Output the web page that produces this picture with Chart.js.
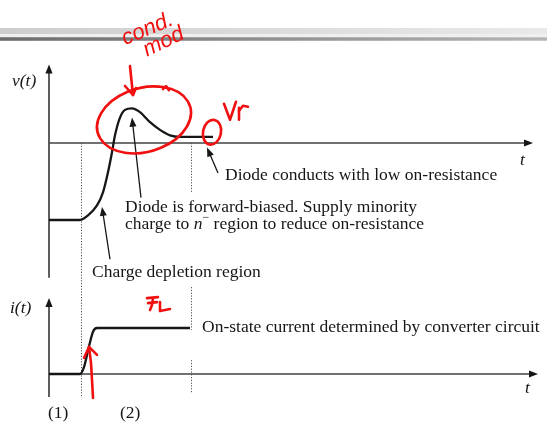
<!DOCTYPE html>
<html>
<head>
<meta charset="utf-8">
<script src="https://cdn.jsdelivr.net/npm/chart.js@4.4.0/dist/chart.umd.min.js"></script>
<style>
  html, body { margin: 0; padding: 0; background: #fff; }
  #wrap { position: relative; width: 547px; height: 425px; }
</style>
</head>
<body>
<div id="wrap"><canvas id="diode"></canvas></div>
<script>
// Power diode turn-on: forward voltage v(t) and current i(t), arbitrary units.
// v is normalised to the reverse (off-state) level = -1, i to the on-state current = 1.
const vTime  = [0, 3.1, 3.9, 4.8, 5.4, 5.9, 6.3, 6.6, 7.1, 7.6, 8.3, 9.1, 10.1, 11.1, 12.1, 13.1, 14.8, 16.4];
const vLevel = [-1, -1, -0.94, -0.81, -0.64, -0.38, -0.12, 0.10, 0.33, 0.43, 0.45, 0.40, 0.27, 0.17, 0.10, 0.08, 0.08, 0.08];
const iTime  = [0, 3.1, 3.5, 4.0, 4.4, 4.8, 14.1];
const iLevel = [0, 0, 0.15, 0.6, 0.92, 1, 1];

// interval boundaries and their names
const phaseEdges  = [3.2, 14.2];
const phaseNames  = ['(1)', '(2)'];
const phaseNameAt = [-0.1, 7.1];

const W = 547, H = 425;

// scale range that puts value a at pixel pa and b at pb over a canvas of given size
function span(a, pa, b, pb, size) {
  const k = (pb - pa) / (b - a);
  const lo = a + (0 - pa) / k;
  const hi = a + (size - pa) / k;
  return { min: Math.min(lo, hi), max: Math.max(lo, hi) };
}
const xr = span(0, 49, 10, 149, W);
const vr = span(0, 143, -1, 220, H);
const ir = span(0, 374, 1, 328, H);

const ink = '#161616';
const axisInk = '#424242';
const red = '#f01010';
const serif = '"Liberation Serif", "Times New Roman", serif';

function arrow(ctx, x0, y0, x1, y1, len, half) {
  const a = Math.atan2(y1 - y0, x1 - x0);
  ctx.beginPath();
  ctx.moveTo(x0, y0);
  ctx.lineTo(x1 - Math.cos(a) * len * 0.6, y1 - Math.sin(a) * len * 0.6);
  ctx.stroke();
  ctx.beginPath();
  ctx.moveTo(x1, y1);
  ctx.lineTo(x1 - Math.cos(a) * len - Math.sin(a) * half, y1 - Math.sin(a) * len + Math.cos(a) * half);
  ctx.lineTo(x1 - Math.cos(a) * len + Math.sin(a) * half, y1 - Math.sin(a) * len - Math.cos(a) * half);
  ctx.closePath();
  ctx.fill();
}

// free-hand stroke: anchor in pixels, list of [dx, dy] offsets
function scribble(ctx, x, y, pts) {
  ctx.beginPath();
  pts.forEach(([dx, dy], k) => k ? ctx.lineTo(x + dx, y + dy) : ctx.moveTo(x + dx, y + dy));
  ctx.stroke();
}

const sketch = {
  id: 'sketch',
  beforeDraw(c) {
    const ctx = c.ctx;
    ctx.save();
    let g = ctx.createLinearGradient(0, 0, W, 0);
    g.addColorStop(0, '#cdcdcd');
    g.addColorStop(1, '#e9e9e9');
    ctx.fillStyle = g;
    ctx.fillRect(0, 28, W, 6);
    ctx.fillStyle = '#efefef';
    ctx.fillRect(0, 34, W, 3);
    g = ctx.createLinearGradient(0, 0, W, 0);
    g.addColorStop(0, '#8a8a8a');
    g.addColorStop(1, '#c9c9c9');
    ctx.fillStyle = g;
    ctx.fillRect(0, 37, W, 4);
    g = ctx.createLinearGradient(0, 0, W, 0);
    g.addColorStop(0, '#6c6c6c');
    g.addColorStop(1, '#b5b5b5');
    ctx.fillStyle = g;
    ctx.fillRect(0, 38, W, 2);
    ctx.restore();
  },
  beforeDatasetsDraw(c) {
    const ctx = c.ctx, s = c.scales;
    const X = t => s.x.getPixelForValue(t);
    const YV = v => s.yv.getPixelForValue(v);
    const YI = i => s.yi.getPixelForValue(i);
    ctx.save();
    ctx.strokeStyle = axisInk;
    ctx.fillStyle = ink;
    ctx.lineWidth = 1.7;
    // voltage axes
    arrow(ctx, X(0), YV(-1.75), X(0), YV(1.02), 9, 3.6);
    arrow(ctx, X(0), YV(0), X(48.4), YV(0), 9, 3.4);
    // current axes
    arrow(ctx, X(0), YI(-0.5), X(0), YI(1.65), 9, 3.6);
    arrow(ctx, X(0), YI(0), X(48.9), YI(0), 9, 3.4);

    // interval boundaries
    ctx.strokeStyle = '#505050';
    ctx.lineWidth = 1;
    ctx.setLineDash([1.2, 1.6]);
    const seg = (t, y0, y1) => {
      ctx.beginPath();
      ctx.moveTo(Math.round(X(t)) + 0.5, y0);
      ctx.lineTo(Math.round(X(t)) + 0.5, y1);
      ctx.stroke();
    };
    seg(phaseEdges[0], YV(0), YI(-0.52));
    seg(phaseEdges[1], YV(0), YV(-0.64));
    seg(phaseEdges[1], YI(1.89), YI(0.96));
    seg(phaseEdges[1], YI(0.30), YI(-0.41));
    ctx.restore();
  },
  afterDatasetsDraw(c) {
    const ctx = c.ctx, s = c.scales;
    const X = t => s.x.getPixelForValue(t);
    const YV = v => s.yv.getPixelForValue(v);
    const YI = i => s.yi.getPixelForValue(i);
    ctx.save();
    ctx.fillStyle = ink;
    ctx.textBaseline = 'alphabetic';
    const up = '17.5px ' + serif, it = 'italic 17.5px ' + serif;

    ctx.font = it;
    ctx.fillText('v(t)', X(-3.7), YV(0.74));
    ctx.fillText('t', X(47.1), YV(-0.29));
    ctx.fillText('i(t)', X(-3.9), YI(1.33));
    ctx.fillText('t', X(47.6), YI(-0.41));

    ctx.font = up;
    ctx.fillText('Diode conducts with low on-resistance', X(17.6), YV(-0.48));
    ctx.fillText('Diode is forward-biased. Supply minority', X(7.6), YV(-0.90));
    // second line with italic n and superscript minus
    let x = X(7.6);
    const y2 = YV(-1.12);
    ctx.fillText('charge to ', x, y2);
    x += ctx.measureText('charge to ').width;
    ctx.font = it;
    ctx.fillText('n', x, y2);
    x += ctx.measureText('n').width;
    ctx.font = '12px ' + serif;
    ctx.fillText('\u2212', x, y2 - 8);
    x += ctx.measureText('\u2212').width;
    ctx.font = up;
    ctx.fillText(' region to reduce on-resistance', x, y2);

    ctx.fillText('Charge depletion region', X(4.3), YV(-1.74));
    ctx.fillText('On-state current determined by converter circuit', X(15.3), YI(0.91));
    phaseNames.forEach((n, k) => ctx.fillText(n, X(phaseNameAt[k]), YI(-0.96)));

    // pointer arrows
    ctx.strokeStyle = ink;
    ctx.lineWidth = 1.3;
    arrow(ctx, X(9.2), YV(-0.71), X(8.3), YV(0.33), 9, 3.5);
    arrow(ctx, X(16.9), YV(-0.39), X(15.8), YV(-0.06), 9, 3.5);
    arrow(ctx, X(6.1), YV(-1.51), X(5.3), YV(-0.83), 9, 3.5);

    // red hand-written notes
    ctx.strokeStyle = red;
    ctx.fillStyle = red;
    ctx.lineWidth = 2.6;
    ctx.lineCap = 'round';
    ctx.lineJoin = 'round';

    ctx.beginPath();
    ctx.ellipse(X(9.5), YV(0.30), 48, 32, -0.28, -1.75, -1.75 + Math.PI * 2.05);
    ctx.stroke();
    scribble(ctx, X(11.4), YV(0.70), [[0, 0], [3, -3], [6, 1]]);

    ctx.beginPath();
    ctx.ellipse(X(16.3), YV(0.14), 9, 12.5, 0.2, 0, Math.PI * 2);
    ctx.stroke();

    // down arrow over the peak
    scribble(ctx, X(8.1), YV(1.0), [[0, 0], [1, 10], [3, 29]]);
    scribble(ctx, X(8.1), YV(1.0), [[-5, 20], [3, 29], [6, 22]]);

    // Vr
    scribble(ctx, X(17.5), YV(0.51), [[0, 0], [6, 16], [12, -2]]);
    scribble(ctx, X(17.5), YV(0.51), [[15, 16], [15, 4]]);
    scribble(ctx, X(17.5), YV(0.51), [[15, 7], [19, 2], [24, 3]]);

    // FL
    scribble(ctx, X(9.8), YI(1.65), [[0, 0], [11, -1]]);
    scribble(ctx, X(9.8), YI(1.65), [[1, 5], [10, 4]]);
    scribble(ctx, X(9.8), YI(1.65), [[6, 0], [5, 7], [3, 12]]);
    scribble(ctx, X(9.8), YI(1.65), [[13, 4], [13, 13], [23, 11]]);

    // arrow up to the current rise
    scribble(ctx, X(4.4), YI(-0.52), [[0, 0], [-1, -18], [-2, -35], [-4, -51]]);
    scribble(ctx, X(4.4), YI(-0.52), [[-9, -40], [-4, -51], [4, -43]]);

    ctx.font = 'italic 22px "Liberation Sans", Arial, sans-serif';
    ctx.save();
    ctx.translate(X(7.6), YV(1.27));
    ctx.rotate(-0.4);
    ctx.fillText('cond.', 0, 0);
    ctx.restore();
    ctx.save();
    ctx.translate(X(9.8), YV(1.12));
    ctx.rotate(-0.45);
    ctx.fillText('mod', 0, 0);
    ctx.restore();
    ctx.restore();
  }
};

new Chart(document.getElementById('diode'), {
  type: 'line',
  data: {
    datasets: [
      {
        label: 'v(t)',
        data: vTime.map((t, k) => ({ x: t, y: vLevel[k] })),
        yAxisID: 'yv',
        borderColor: ink,
        borderWidth: 2.3,
        pointRadius: 0,
        fill: false,
        cubicInterpolationMode: 'monotone',
      },
      {
        label: 'i(t)',
        data: iTime.map((t, k) => ({ x: t, y: iLevel[k] })),
        yAxisID: 'yi',
        borderColor: ink,
        borderWidth: 2.3,
        pointRadius: 0,
        fill: false,
        cubicInterpolationMode: 'monotone',
      },
    ],
  },
  options: {
    responsive: true,
    maintainAspectRatio: false,
    animation: false,
    events: [],
    layout: { padding: 0 },
    plugins: { legend: { display: false }, tooltip: { enabled: false } },
    scales: {
      x: { type: 'linear', min: xr.min, max: xr.max, display: false },
      yv: { axis: 'y', type: 'linear', min: vr.min, max: vr.max, display: false },
      yi: { axis: 'y', type: 'linear', min: ir.min, max: ir.max, display: false },
    },
  },
  plugins: [sketch],
});
</script>
</body>
</html>
